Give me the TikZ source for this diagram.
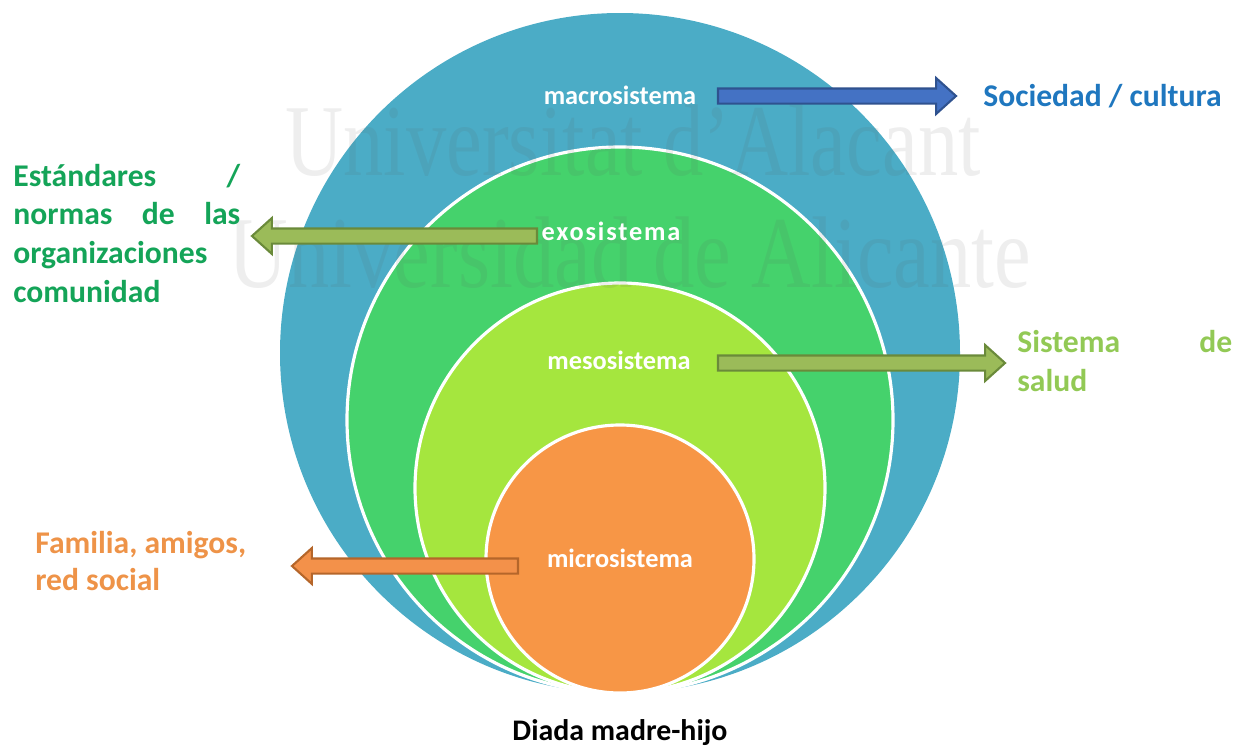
\documentclass[tikz,border=0pt]{standalone}
\usepackage{fontspec}
\setmainfont{Carlito}
\newfontfamily\wmfont{Liberation Serif}
\usetikzlibrary{calc}

\definecolor{macroblue}{HTML}{4BACC6}
\definecolor{exogreen}{HTML}{45D26C}
\definecolor{mesogreen}{HTML}{A5E63E}
\definecolor{microorange}{HTML}{F79646}
\definecolor{arrowblue}{HTML}{4472C4}
\definecolor{arrowblueline}{HTML}{2F528F}
\definecolor{arrowolive}{HTML}{9BBB59}
\definecolor{arrowoliveline}{HTML}{6A8A3A}
\definecolor{arroworange}{HTML}{F3914A}
\definecolor{arroworangeline}{HTML}{B5662A}
\definecolor{socblue}{HTML}{1F77BF}
\definecolor{normgreen}{HTML}{14A458}
\definecolor{saludgreen}{HTML}{92C955}
\definecolor{familyorange}{HTML}{EE9348}

% block arrow: style, tail, tip (horizontal)
\newcommand{\blockarrow}[3]{%
  \draw[#1] let \p1=(#2), \p2=(#3), \n1={sign(\x2-\x1)} in
    (\x1,\y1+4.3pt) -- (\x2-\n1*11.3pt,\y1+4.3pt) -- (\x2-\n1*11.3pt,\y1+10.2pt)
    -- (\x2,\y2) -- (\x2-\n1*11.3pt,\y1-10.2pt) -- (\x2-\n1*11.3pt,\y1-4.3pt)
    -- (\x1,\y1-4.3pt) -- cycle;}

\tikzset{
  ring/.style={draw=white, line width=1.8pt},
  sysname/.style={text=white, font=\fontsize{15}{18}\selectfont\bfseries, inner sep=0pt, anchor=base},
  sidelabel/.style={font=\fontsize{18}{22}\selectfont\bfseries, inner sep=0pt, anchor=base west, align=left},
  watermark/.style={text=black!65, text opacity=0.1, font=\wmfont\fontsize{58}{60}\selectfont, inner sep=0pt, anchor=base},
  arrowshape/.style={line width=1.2pt, line join=miter}
}

\begin{document}
\begin{tikzpicture}[x=0.02cm, y=-0.02cm]
    \useasboundingbox (0,0) rectangle (1241,747);

    % nested circles, all touching at the bottom
    \fill[macroblue] (620,353) circle (340);
    \fill[exogreen, ring] (620,420) circle (273);
    \fill[mesogreen, ring] (620,488) circle (205);
    \fill[microorange, ring] (620,559) circle (134);

    \node[watermark] (wmone) at (633,175) {\scalebox{0.79}[1]{Universitat d’Alacant}};
    \node[watermark] (wmtwo) at (630,287) {\scalebox{0.81}[1]{Universidad de Alicante}};

    \node[sysname] (macro) at (620,104) {macrosistema};
    \node[sysname] (exo) at (611,240) {\addfontfeature{LetterSpace=7}exosistema};
    \node[sysname] (meso) at (619,369) {mesosistema};
    \node[sysname] (micro) at (620,567) {microsistema};

    \node[sidelabel, text=socblue] (sociedad) at (983,106) {Sociedad / cultura};
    \node[sidelabel, text=normgreen] (normas) at (13,302)
        {\makebox[4.54cm]{Estándares\hfill/}\\\makebox[4.54cm]{normas\hfill de\hfill las}\\organizaciones\\comunidad};
    \node[sidelabel, text=saludgreen] (salud) at (1017,391) {\makebox[4.3cm]{Sistema\hfill de}\\salud};
    \node[sidelabel, text=familyorange, font=\fontsize{18}{20.5}\selectfont\bfseries] (familia) at (35,590)
        {Familia, amigos,\\red social};
    \node[font=\fontsize{17}{20}\selectfont\bfseries, inner sep=0pt, anchor=base] (diada) at (620,740) {Diada madre-hijo};

    % arrow ends
    \coordinate (macro tail) at (718,96);
    \coordinate (macro tip) at (956,96);
    \coordinate (exo tail) at (537,236);
    \coordinate (exo tip) at (252,236);
    \coordinate (meso tail) at (718,363);
    \coordinate (meso tip) at (1005,363);
    \coordinate (micro tail) at (518,566);
    \coordinate (micro tip) at (292,566);

    \blockarrow{arrowshape, fill=arrowblue, draw=arrowblueline}{macro tail}{macro tip}
    \blockarrow{arrowshape, fill=arrowolive, draw=arrowoliveline}{exo tail}{exo tip}
    \blockarrow{arrowshape, fill=arrowolive, draw=arrowoliveline}{meso tail}{meso tip}
    \blockarrow{arrowshape, fill=arroworange, draw=arroworangeline}{micro tail}{micro tip}
\end{tikzpicture}
\end{document}
